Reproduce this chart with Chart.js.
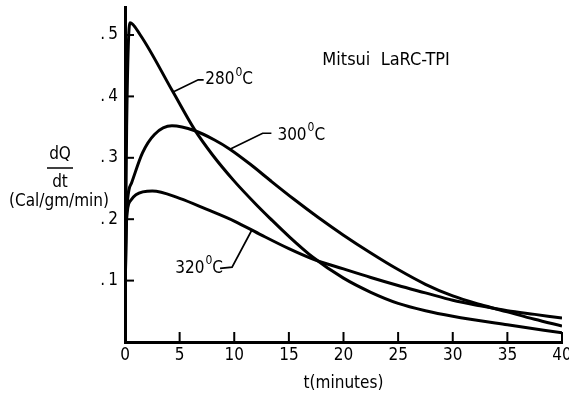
<!DOCTYPE html>
<html>
<head>
<meta charset="utf-8">
<script src="https://cdn.jsdelivr.net/npm/chart.js@4.4.1/dist/chart.umd.min.js"></script>
<style>
    html, body { margin: 0; padding: 0; background: #fff; }
</style>
</head>
<body>
<canvas id="heatChart" width="569" height="394"></canvas>
<script>
// axis ticks
const xTicks = [0, 5, 10, 15, 20, 25, 30, 35, 40];
const yTicks = [0.1, 0.2, 0.3, 0.4, 0.5];

// t (minutes) and dQ/dt (Cal/gm/min)
const t280 = [0, 0.15, 0.45, 1.4, 4.4, 6.4, 8, 10, 12, 13.3, 15, 17.2, 20, 22.5, 25, 27.5, 30, 35, 40];
const q280 = [0.06, 0.35, 0.52, 0.50, 0.407, 0.345, 0.305, 0.262, 0.224, 0.201, 0.172, 0.138, 0.104, 0.081, 0.063, 0.051, 0.042, 0.028, 0.015];

const t300 = [0, 0.15, 0.6, 1.6, 2.7, 4.3, 6.4, 8.2, 9.6, 11.5, 13.3, 15.5, 17.6, 20, 22.5, 25, 27.5, 30, 32.5, 35, 37.5, 40];
const q300 = [0.07, 0.21, 0.259, 0.308, 0.338, 0.352, 0.344, 0.329, 0.314, 0.289, 0.263, 0.232, 0.204, 0.174, 0.145, 0.118, 0.094, 0.075, 0.061, 0.049, 0.037, 0.026];

const t320 = [0, 0.15, 0.5, 1, 2.5, 5, 7.5, 10, 12.5, 15, 17.2, 20, 22.5, 25, 27.5, 30, 32.5, 35, 37.5, 40];
const q320 = [0.07, 0.2, 0.23, 0.24, 0.246, 0.234, 0.216, 0.197, 0.174, 0.152, 0.135, 0.119, 0.105, 0.092, 0.08, 0.068, 0.059, 0.051, 0.045, 0.039];

const FONT = '"Liberation Sans Narrow", "DejaVu Sans Condensed", sans-serif';

// curve labels and leader lines, in data units
const curveLabels = [
    {text: '280', at: [7.35, 0.427], leader: [[4.4, 0.407], [6.7, 0.427], [7.2, 0.427]]},
    {text: '300', at: [13.95, 0.337], leader: [[9.6, 0.314], [12.6, 0.340], [13.4, 0.340]]},
    {text: '320', at: [4.6, 0.12], leader: [[8.7, 0.12], [9.8, 0.122], [11.6, 0.182]]}
];

function points(ts, qs) {
    return ts.map((t, i) => ({x: t, y: qs[i]}));
}

function drawTemp(ctx, text, x, y) {
    ctx.font = '17px ' + FONT;
    ctx.textAlign = 'left';
    ctx.textBaseline = 'middle';
    ctx.fillText(text, x, y);
    let w = ctx.measureText(text).width;
    ctx.font = '12px ' + FONT;
    ctx.fillText('0', x + w + 1, y - 7);
    w += ctx.measureText('0').width + 1;
    ctx.font = '17px ' + FONT;
    ctx.fillText('C', x + w, y);
}

const decorations = {
    id: 'decorations',
    afterDatasetsDraw(chart) {
        const {ctx, chartArea: a, scales: {x, y}} = chart;
        ctx.save();
        ctx.strokeStyle = '#000';
        ctx.fillStyle = '#000';

        // tick marks point into the plot
        ctx.lineWidth = 2;
        yTicks.forEach(v => {
            const py = y.getPixelForValue(v);
            ctx.beginPath();
            ctx.moveTo(a.left, py);
            ctx.lineTo(a.left + 9, py);
            ctx.stroke();
        });
        xTicks.forEach(v => {
            const px = x.getPixelForValue(v);
            ctx.beginPath();
            ctx.moveTo(px, a.bottom);
            ctx.lineTo(px, a.bottom - 10);
            ctx.stroke();
        });

        // leaders + labels
        ctx.lineWidth = 1.7;
        curveLabels.forEach(l => {
            ctx.beginPath();
            l.leader.forEach(([t, q], i) => {
                const px = x.getPixelForValue(t), py = y.getPixelForValue(q);
                if (i) ctx.lineTo(px, py); else ctx.moveTo(px, py);
            });
            ctx.stroke();
            drawTemp(ctx, l.text, x.getPixelForValue(l.at[0]), y.getPixelForValue(l.at[1]));
        });

        ctx.font = '18px ' + FONT;
        ctx.textAlign = 'center';
        ctx.textBaseline = 'middle';
        ctx.fillText('Mitsui  LaRC-TPI', x.getPixelForValue(23.9), y.getPixelForValue(0.459));

        // y axis title as a fraction
        ctx.font = '17px ' + FONT;
        ctx.fillText('dQ', 60, 155);
        ctx.fillText('dt', 60, 183);
        ctx.fillText('(Cal/gm/min)', 59, 202);
        ctx.lineWidth = 1.5;
        ctx.beginPath();
        ctx.moveTo(47, 168);
        ctx.lineTo(73, 168);
        ctx.stroke();
        ctx.restore();
    }
};

function curve(ts, qs) {
    return {
        data: points(ts, qs),
        borderColor: '#000',
        borderWidth: 3,
        pointRadius: 0,
        fill: false,
        cubicInterpolationMode: 'monotone'
    };
}

const ctx = document.getElementById('heatChart').getContext('2d');
new Chart(ctx, {
    type: 'line',
    data: {
        datasets: [curve(t280, q280), curve(t300, q300), curve(t320, q320)]
    },
    options: {
        responsive: false,
        animation: false,
        layout: {padding: {top: 7, right: 7, left: 0, bottom: 0}},
        plugins: {legend: {display: false}, tooltip: {enabled: false}},
        scales: {
            x: {
                type: 'linear',
                min: 0,
                max: 40,
                grid: {display: false, drawTicks: false},
                border: {display: true, color: '#000', width: 3},
                afterBuildTicks: s => { s.ticks = xTicks.map(v => ({value: v})); },
                afterFit: s => { s.height = 52; s.paddingLeft = 0; s.paddingRight = 0; },
                ticks: {
                    color: '#000',
                    padding: 3,
                    maxRotation: 0,
                    font: {family: FONT, size: 17}
                },
                title: {
                    display: true,
                    text: 't(minutes)',
                    color: '#000',
                    padding: {top: 0, bottom: 0},
                    font: {family: FONT, size: 17}
                }
            },
            y: {
                min: 0,
                max: 0.5456,
                grid: {display: false, drawTicks: false},
                border: {display: true, color: '#000', width: 3},
                afterBuildTicks: s => { s.ticks = yTicks.map(v => ({value: v})); },
                afterFit: s => { s.width = 125; s.paddingTop = 0; s.paddingBottom = 0; },
                ticks: {
                    color: '#000',
                    padding: 7,
                    font: {family: FONT, size: 17},
                    callback: v => '.\u2009' + Math.round(v * 10)
                }
            }
        }
    },
    plugins: [decorations]
});
</script>
</body>
</html>
